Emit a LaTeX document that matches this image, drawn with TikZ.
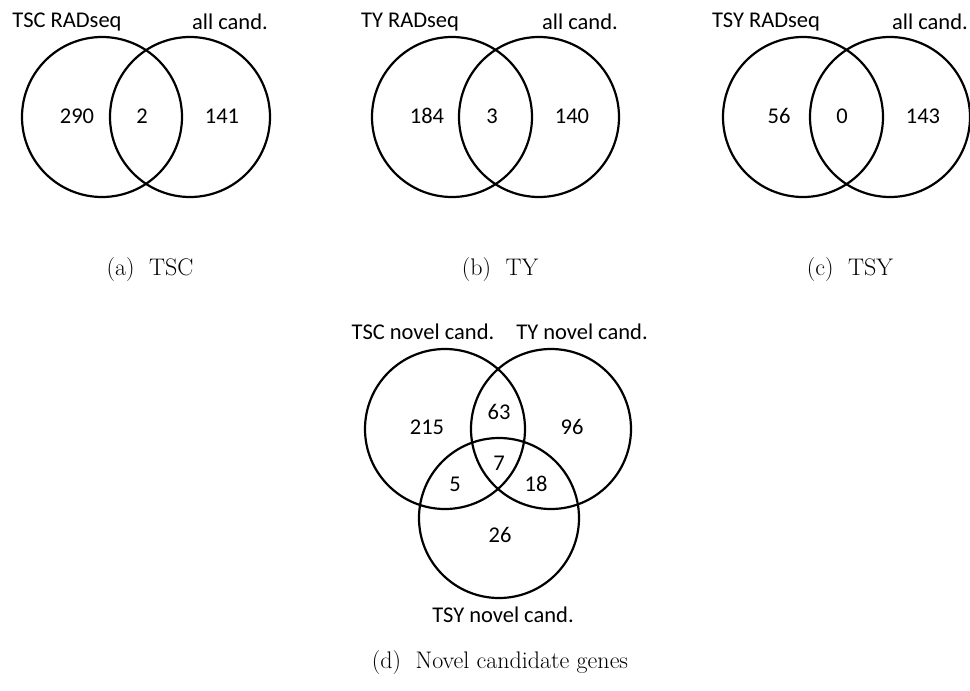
\documentclass[tikz,border=0pt]{standalone}
\usepackage{fontspec}
\newfontfamily\calib{Carlito}
\begin{document}
\begin{tikzpicture}[x=1pt,y=-1pt,
  venn/.style={draw=black,line width=2.2pt,circle,minimum size=160pt,inner sep=0pt},
  lbl/.style={font=\calib\fontsize{22.5}{26}\selectfont,inner sep=0pt},
  subcap/.style={font=\fontsize{24}{28}\selectfont,inner sep=0pt}]
\useasboundingbox (0,0) rectangle (970,691);
% (a)
\node[venn] (a1) at (102,117) {};
\node[venn] (a2) at (190,117) {};
\node[lbl] (aL1) at (67,22) {TSC RADseq};
\node[lbl] (aL2) at (230,22) {all cand.};
\node[lbl] (an1) at (77,116) {290};
\node[lbl] (an2) at (142,116) {2};
\node[lbl] (an3) at (222,116) {141};
\node[subcap] (acap) at (150,270) {(a)\ \ TSC};
% (b)
\node[venn] (b1) at (452,117) {};
\node[venn] (b2) at (539,117) {};
\node[lbl] (bL1) at (410,22) {TY RADseq};
\node[lbl] (bL2) at (580,22) {all cand.};
\node[lbl] (bn1) at (427,116) {184};
\node[lbl] (bn2) at (492,116) {3};
\node[lbl] (bn3) at (572,116) {140};
\node[subcap] (bcap) at (500,270) {(b)\ \ TY};
% (c)
\node[venn] (c1) at (803,117) {};
\node[venn] (c2) at (890,117) {};
\node[lbl] (cL1) at (766,22) {TSY RADseq};
\node[lbl] (cL2) at (930,22) {all cand.};
\node[lbl] (cn1) at (779,116) {56};
\node[lbl] (cn2) at (842,116) {0};
\node[lbl] (cn3) at (923,116) {143};
\node[subcap] (ccap) at (850,270) {(c)\ \ TSY};
% (d)
\node[venn] (d1) at (445,429) {};
\node[venn] (d2) at (551,429) {};
\node[venn] (d3) at (499,518) {};
\node[lbl] (dL1) at (423,332) {TSC novel cand.};
\node[lbl] (dL2) at (582,332) {TY novel cand.};
\node[lbl] (dL3) at (503,615) {TSY novel cand.};
\node[lbl] (dn1) at (427,427) {215};
\node[lbl] (dn2) at (499,412) {63};
\node[lbl] (dn3) at (572,427) {96};
\node[lbl] (dn4) at (499,463) {7};
\node[lbl] (dn5) at (455,484) {5};
\node[lbl] (dn6) at (536,484) {18};
\node[lbl] (dn7) at (500,535) {26};
\node[subcap] (dcap) at (500,663) {(d)\ \ Novel candidate genes};
\end{tikzpicture}
\end{document}
